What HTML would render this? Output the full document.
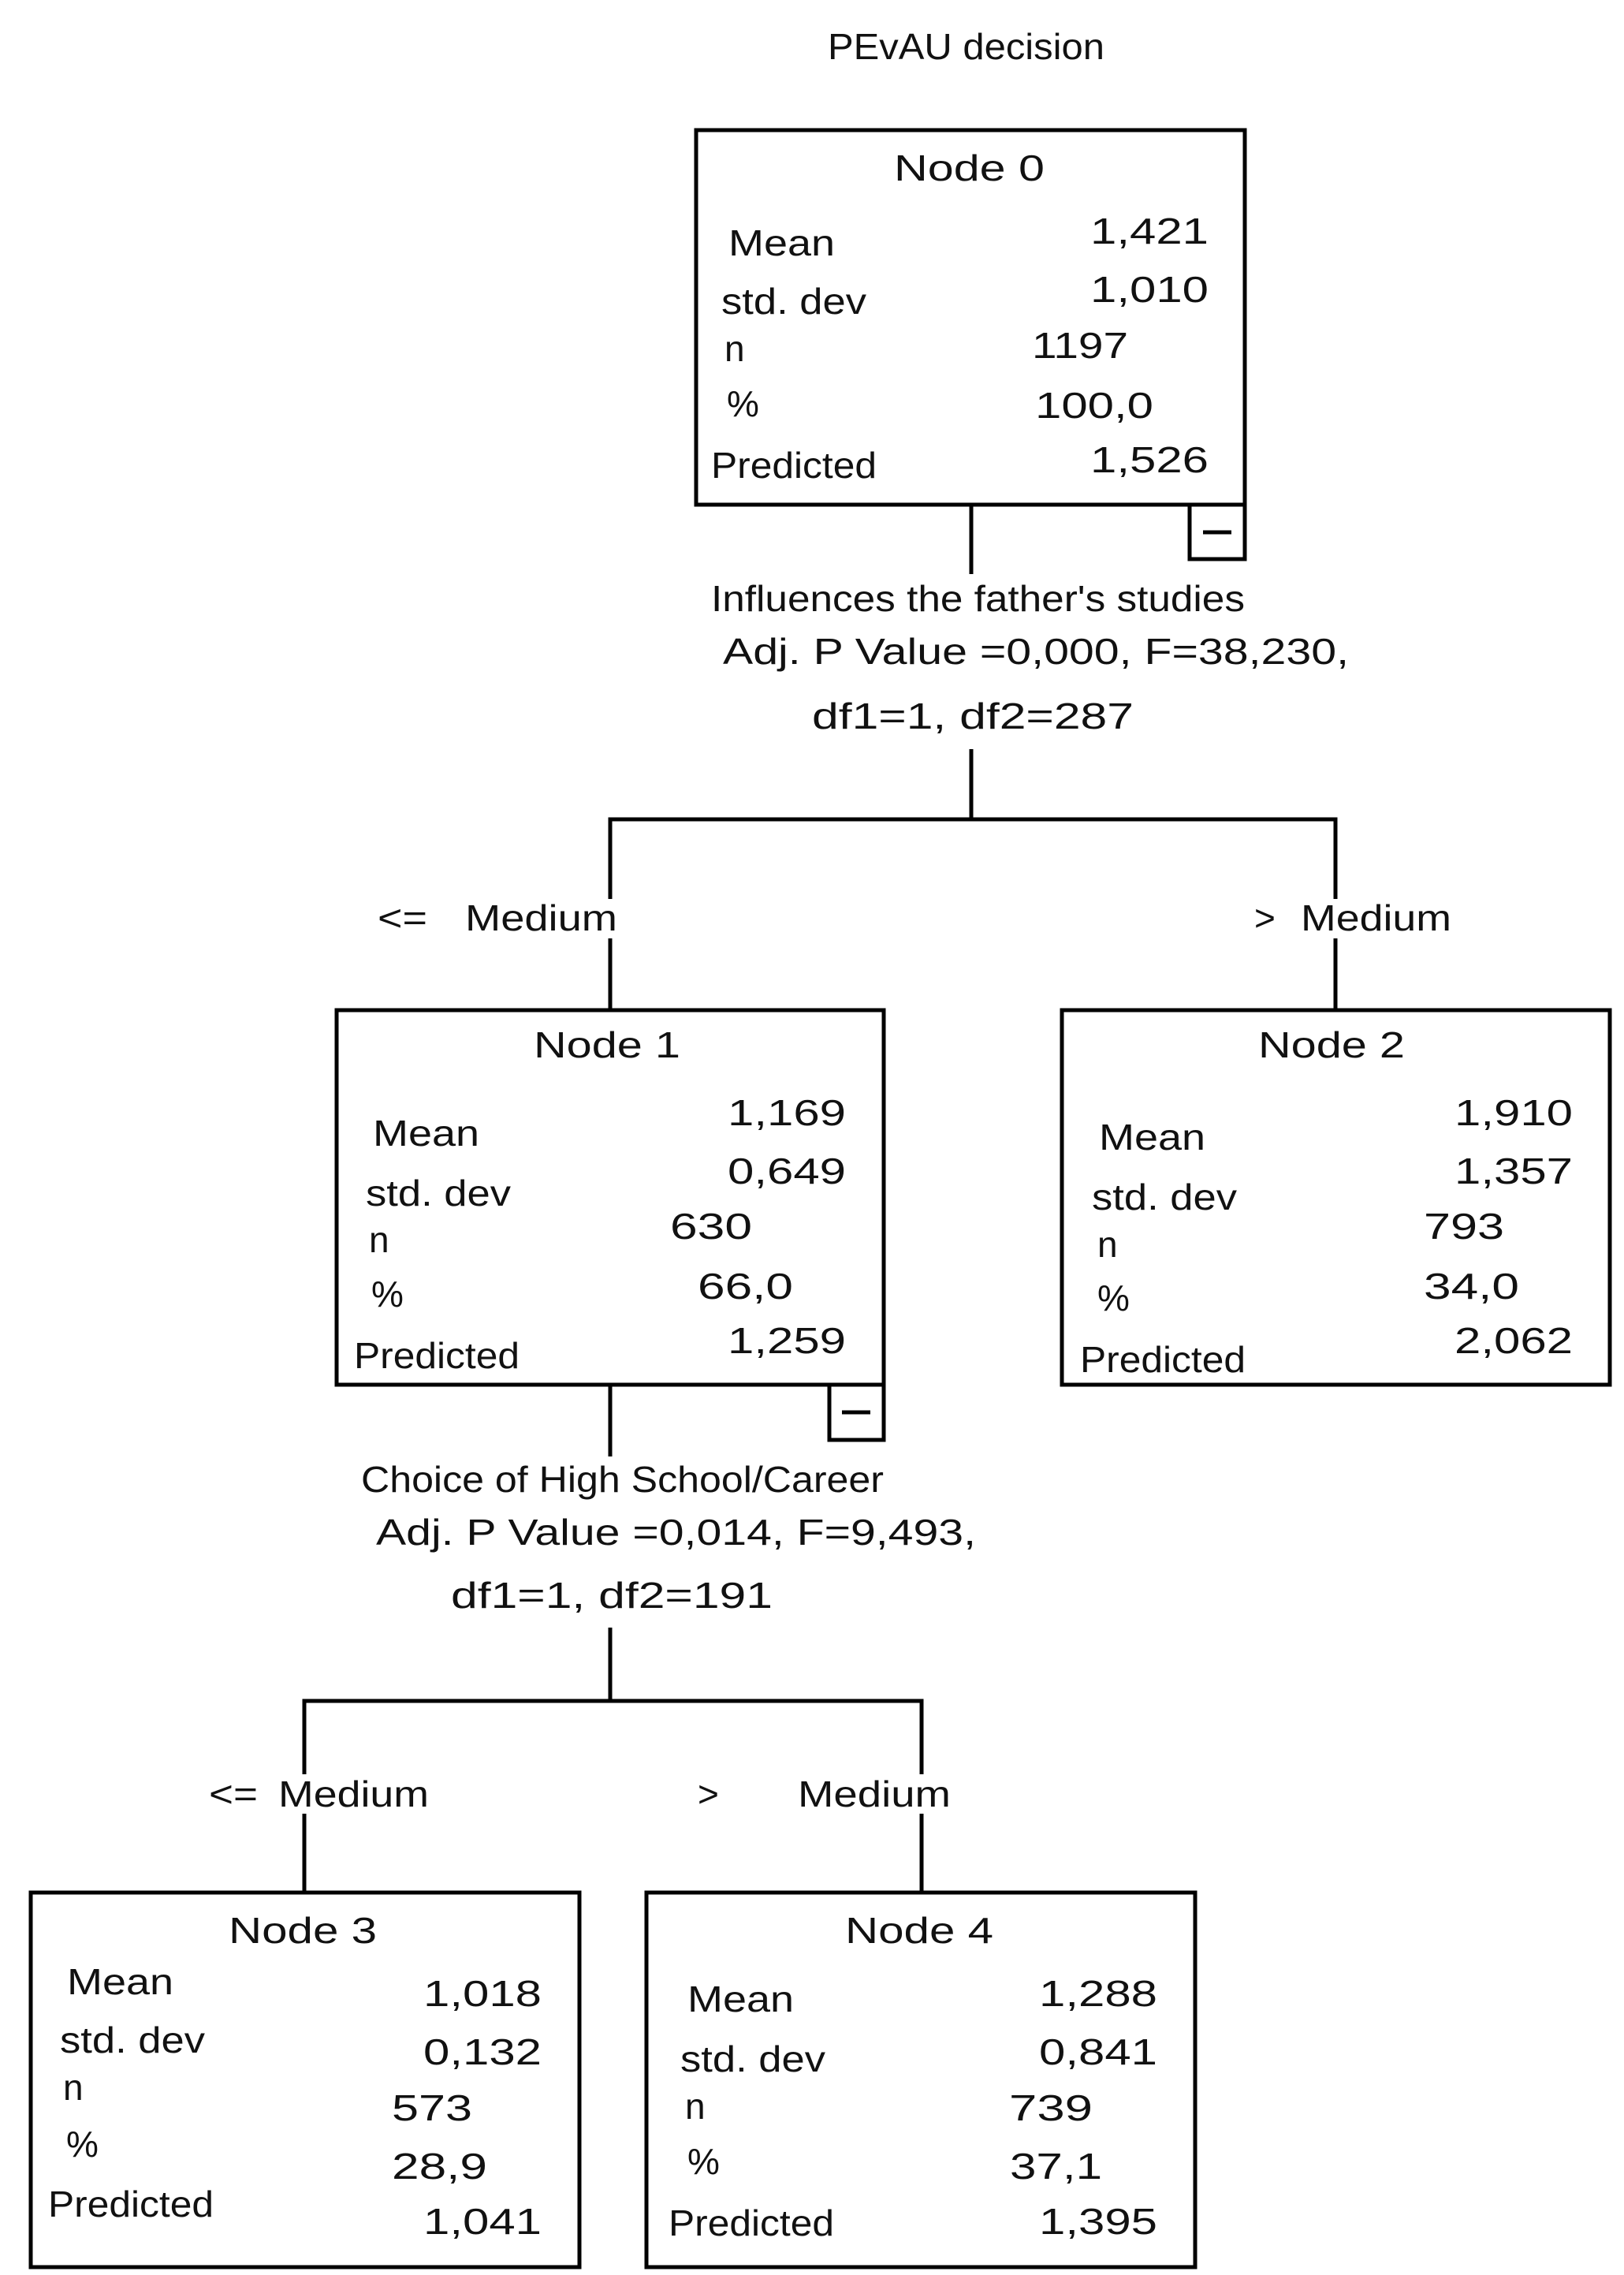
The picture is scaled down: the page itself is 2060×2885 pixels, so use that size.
<!DOCTYPE html>
<html><head><meta charset="utf-8"><style>
html,body{margin:0;padding:0;background:#fff;}
svg{display:block;}
text{font-family:"Liberation Sans",sans-serif;font-size:46px;fill:#111;}
</style></head><body>
<svg width="2060" height="2885" viewBox="0 0 2060 2885" xmlns="http://www.w3.org/2000/svg">
<g fill="none" stroke="#000" stroke-width="5">
<rect x="883" y="165" width="696" height="475"/>
<rect x="1509" y="640" width="70" height="69"/>
<line x1="1526" y1="675" x2="1562" y2="675"/>
<line x1="1232" y1="640" x2="1232" y2="728"/>
<line x1="1232" y1="950" x2="1232" y2="1039"/>
<polyline points="774,1281 774,1039 1694,1039 1694,1281"/>
<line x1="774" y1="1140" x2="774" y2="1190" stroke="#fff" stroke-width="0"/>
<rect x="427" y="1281" width="694" height="475"/>
<rect x="1347" y="1281" width="695" height="475"/>
<rect x="1052" y="1756" width="69" height="70"/>
<line x1="1068" y1="1791" x2="1104" y2="1791"/>
<line x1="774" y1="1756" x2="774" y2="1847"/>
<line x1="774" y1="2064" x2="774" y2="2157"/>
<polyline points="386,2400 386,2157 1169,2157 1169,2400"/>
<rect x="39" y="2400" width="696" height="475"/>
<rect x="820" y="2400" width="696" height="475"/>
</g>
<!-- white gaps behind branch labels -->
<rect x="760" y="1140" width="28" height="50" fill="#fff"/>
<rect x="1680" y="1140" width="28" height="50" fill="#fff"/>
<rect x="372" y="2250" width="28" height="50" fill="#fff"/>
<rect x="1155" y="2250" width="28" height="50" fill="#fff"/>
<g stroke="#000" stroke-width="5">
<line x1="774" y1="1190" x2="774" y2="1281"/>
<line x1="1694" y1="1190" x2="1694" y2="1281"/>
<line x1="386" y1="2300" x2="386" y2="2400"/>
<line x1="1169" y1="2300" x2="1169" y2="2400"/>
</g>

<text x="1050" y="75" textLength="351" lengthAdjust="spacingAndGlyphs">PEvAU decision</text>

<!-- Node 0 -->
<text x="1134" y="229" textLength="191" lengthAdjust="spacingAndGlyphs">Node 0</text>
<text x="924" y="324" textLength="135" lengthAdjust="spacingAndGlyphs">Mean</text>
<text x="915" y="398" textLength="184" lengthAdjust="spacingAndGlyphs">std. dev</text>
<text x="919" y="458">n</text>
<text x="922" y="528">%</text>
<text x="902" y="606" textLength="210" lengthAdjust="spacingAndGlyphs">Predicted</text>
<text x="1533" y="309" text-anchor="end" textLength="150" lengthAdjust="spacingAndGlyphs">1,421</text>
<text x="1533" y="383" text-anchor="end" textLength="150" lengthAdjust="spacingAndGlyphs">1,010</text>
<text x="1431" y="454" text-anchor="end" textLength="122" lengthAdjust="spacingAndGlyphs">1197</text>
<text x="1463" y="530" text-anchor="end" textLength="150" lengthAdjust="spacingAndGlyphs">100,0</text>
<text x="1533" y="599" text-anchor="end" textLength="150" lengthAdjust="spacingAndGlyphs">1,526</text>

<text x="902" y="775" textLength="677" lengthAdjust="spacingAndGlyphs">Influences the father's studies</text>
<text x="917" y="842" textLength="794" lengthAdjust="spacingAndGlyphs">Adj. P Value =0,000, F=38,230,</text>
<text x="1030" y="924" textLength="408" lengthAdjust="spacingAndGlyphs">df1=1, df2=287</text>

<text x="479" y="1180" textLength="63" lengthAdjust="spacingAndGlyphs">&lt;=</text>
<text x="590" y="1180" textLength="193" lengthAdjust="spacingAndGlyphs">Medium</text>
<text x="1591" y="1180">&gt;</text>
<text x="1650" y="1180" textLength="191" lengthAdjust="spacingAndGlyphs">Medium</text>

<!-- Node 1 -->
<text x="677" y="1341" textLength="186" lengthAdjust="spacingAndGlyphs">Node 1</text>
<text x="473" y="1453" textLength="135" lengthAdjust="spacingAndGlyphs">Mean</text>
<text x="464" y="1529" textLength="184" lengthAdjust="spacingAndGlyphs">std. dev</text>
<text x="468" y="1588">n</text>
<text x="471" y="1657">%</text>
<text x="449" y="1735" textLength="210" lengthAdjust="spacingAndGlyphs">Predicted</text>
<text x="1073" y="1427" text-anchor="end" textLength="150" lengthAdjust="spacingAndGlyphs">1,169</text>
<text x="1073" y="1501" text-anchor="end" textLength="150" lengthAdjust="spacingAndGlyphs">0,649</text>
<text x="954" y="1571" text-anchor="end" textLength="104" lengthAdjust="spacingAndGlyphs">630</text>
<text x="1006" y="1647" text-anchor="end" textLength="121" lengthAdjust="spacingAndGlyphs">66,0</text>
<text x="1073" y="1716" text-anchor="end" textLength="150" lengthAdjust="spacingAndGlyphs">1,259</text>

<!-- Node 2 -->
<text x="1596" y="1341" textLength="186" lengthAdjust="spacingAndGlyphs">Node 2</text>
<text x="1394" y="1458" textLength="135" lengthAdjust="spacingAndGlyphs">Mean</text>
<text x="1385" y="1534" textLength="184" lengthAdjust="spacingAndGlyphs">std. dev</text>
<text x="1392" y="1594">n</text>
<text x="1392" y="1662">%</text>
<text x="1370" y="1740" textLength="210" lengthAdjust="spacingAndGlyphs">Predicted</text>
<text x="1995" y="1427" text-anchor="end" textLength="150" lengthAdjust="spacingAndGlyphs">1,910</text>
<text x="1995" y="1501" text-anchor="end" textLength="150" lengthAdjust="spacingAndGlyphs">1,357</text>
<text x="1908" y="1571" text-anchor="end" textLength="102" lengthAdjust="spacingAndGlyphs">793</text>
<text x="1927" y="1647" text-anchor="end" textLength="121" lengthAdjust="spacingAndGlyphs">34,0</text>
<text x="1995" y="1716" text-anchor="end" textLength="150" lengthAdjust="spacingAndGlyphs">2,062</text>

<text x="458" y="1892" textLength="663" lengthAdjust="spacingAndGlyphs">Choice of High School/Career</text>
<text x="477" y="1959" textLength="761" lengthAdjust="spacingAndGlyphs">Adj. P Value =0,014, F=9,493,</text>
<text x="572" y="2039" textLength="408" lengthAdjust="spacingAndGlyphs">df1=1, df2=191</text>

<text x="265" y="2291" textLength="62" lengthAdjust="spacingAndGlyphs">&lt;=</text>
<text x="353" y="2291" textLength="191" lengthAdjust="spacingAndGlyphs">Medium</text>
<text x="885" y="2291">&gt;</text>
<text x="1012" y="2291" textLength="194" lengthAdjust="spacingAndGlyphs">Medium</text>

<!-- Node 3 -->
<text x="290" y="2464" textLength="188" lengthAdjust="spacingAndGlyphs">Node 3</text>
<text x="85" y="2529" textLength="135" lengthAdjust="spacingAndGlyphs">Mean</text>
<text x="76" y="2603" textLength="184" lengthAdjust="spacingAndGlyphs">std. dev</text>
<text x="80" y="2663">n</text>
<text x="84" y="2735">%</text>
<text x="61" y="2811" textLength="210" lengthAdjust="spacingAndGlyphs">Predicted</text>
<text x="687" y="2544" text-anchor="end" textLength="150" lengthAdjust="spacingAndGlyphs">1,018</text>
<text x="687" y="2618" text-anchor="end" textLength="150" lengthAdjust="spacingAndGlyphs">0,132</text>
<text x="599" y="2689" text-anchor="end" textLength="102" lengthAdjust="spacingAndGlyphs">573</text>
<text x="618" y="2763" text-anchor="end" textLength="121" lengthAdjust="spacingAndGlyphs">28,9</text>
<text x="687" y="2833" text-anchor="end" textLength="150" lengthAdjust="spacingAndGlyphs">1,041</text>

<!-- Node 4 -->
<text x="1072" y="2464" textLength="188" lengthAdjust="spacingAndGlyphs">Node 4</text>
<text x="872" y="2551" textLength="135" lengthAdjust="spacingAndGlyphs">Mean</text>
<text x="863" y="2627" textLength="184" lengthAdjust="spacingAndGlyphs">std. dev</text>
<text x="869" y="2687">n</text>
<text x="872" y="2757">%</text>
<text x="848" y="2835" textLength="210" lengthAdjust="spacingAndGlyphs">Predicted</text>
<text x="1468" y="2544" text-anchor="end" textLength="150" lengthAdjust="spacingAndGlyphs">1,288</text>
<text x="1468" y="2618" text-anchor="end" textLength="150" lengthAdjust="spacingAndGlyphs">0,841</text>
<text x="1386" y="2689" text-anchor="end" textLength="106" lengthAdjust="spacingAndGlyphs">739</text>
<text x="1398" y="2763" text-anchor="end" textLength="117" lengthAdjust="spacingAndGlyphs">37,1</text>
<text x="1468" y="2833" text-anchor="end" textLength="150" lengthAdjust="spacingAndGlyphs">1,395</text>
</svg>
</body></html>
